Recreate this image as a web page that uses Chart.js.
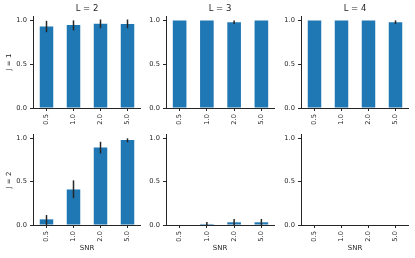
<!DOCTYPE html>
<html>
<head>
<meta charset="utf-8">
<script src="https://cdn.jsdelivr.net/npm/chart.js@4.4.0/dist/chart.umd.min.js"></script>
<style>
  body { margin: 0; width: 415px; height: 258px; position: relative; overflow: hidden; background: #fff;
         font-family: "DejaVu Sans", sans-serif; color: #262626; }
  canvas { position: absolute; }
  .lbl { position: absolute; white-space: nowrap; transform: translate(-50%, -50%); font-size: 7px; }
  .ttl { font-size: 8.5px; }
  .rot { transform: translate(-50%, -50%) rotate(-90deg); }
</style>
</head>
<body>
<canvas id="p11"></canvas><canvas id="p12"></canvas><canvas id="p13"></canvas>
<canvas id="p21"></canvas><canvas id="p22"></canvas><canvas id="p23"></canvas>

<div class="lbl ttl" style="left:87px;top:8px">L = 2</div>
<div class="lbl ttl" style="left:220px;top:8px">L = 3</div>
<div class="lbl ttl" style="left:355px;top:8px">L = 4</div>
<div class="lbl rot" style="left:8.5px;top:62px">J = 1</div>
<div class="lbl rot" style="left:8.5px;top:180px">J = 2</div>
<div class="lbl" style="left:87px;top:248px">SNR</div>
<div class="lbl" style="left:220px;top:248px">SNR</div>
<div class="lbl" style="left:355px;top:248px">SNR</div>

<script>
  // --- data
  const snr = ['0.5', '1.0', '2.0', '5.0'];
  const yTicks = [0, 0.5, 1.0];

  // J = 1
  const j1L2 = [0.93, 0.947, 0.962, 0.96];
  const j1L2Lo = [0.865, 0.886, 0.91, 0.91];
  const j1L2Hi = [0.995, 1.0, 1.01, 1.01];
  const j1L3 = [1.0, 1.0, 0.98, 1.0];
  const j1L3Lo = [1.0, 1.0, 0.96, 1.0];
  const j1L3Hi = [1.0, 1.0, 1.0, 1.0];
  const j1L4 = [1.0, 1.0, 1.0, 0.98];
  const j1L4Lo = [1.0, 1.0, 1.0, 0.96];
  const j1L4Hi = [1.0, 1.0, 1.0, 1.0];

  // J = 2
  const j2L2 = [0.065, 0.41, 0.893, 0.98];
  const j2L2Lo = [0.0, 0.31, 0.825, 0.955];
  const j2L2Hi = [0.115, 0.515, 0.96, 1.0];
  const j2L3 = [0.0, 0.012, 0.031, 0.031];
  const j2L3Lo = [0.0, 0.0, 0.0, 0.0];
  const j2L3Hi = [0.0, 0.035, 0.07, 0.07];
  const j2L4 = [0.0, 0.0, 0.0, 0.0];
  const j2L4Lo = [0.0, 0.0, 0.0, 0.0];
  const j2L4Hi = [0.0, 0.0, 0.0, 0.0];

  // --- layout of the 2x3 grid
  const INK = '#262626';
  const BAR = '#1f77b4';
  const X_AXIS_H = 22;

  const panels = [
    { id: 'p11', left: 0,   top: 0,   w: 141, h: 130, yW: 33, mean: j1L2, lo: j1L2Lo, hi: j1L2Hi },
    { id: 'p12', left: 140, top: 0,   w: 135, h: 130, yW: 26, mean: j1L3, lo: j1L3Lo, hi: j1L3Hi },
    { id: 'p13', left: 275, top: 0,   w: 134, h: 130, yW: 26, mean: j1L4, lo: j1L4Lo, hi: j1L4Hi },
    { id: 'p21', left: 0,   top: 118, w: 141, h: 129, yW: 33, mean: j2L2, lo: j2L2Lo, hi: j2L2Hi },
    { id: 'p22', left: 140, top: 118, w: 135, h: 129, yW: 26, mean: j2L3, lo: j2L3Lo, hi: j2L3Hi },
    { id: 'p23', left: 275, top: 118, w: 134, h: 129, yW: 26, mean: j2L4, lo: j2L4Lo, hi: j2L4Hi }
  ];

  // error bars: vertical line from lo to hi at each bar center
  const errBars = {
    id: 'errBars',
    afterDatasetsDraw(chart) {
      const ds = chart.data.datasets[0];
      const meta = chart.getDatasetMeta(0);
      const y = chart.scales.y;
      const ctx = chart.ctx;
      ctx.save();
      ctx.strokeStyle = INK;
      ctx.lineWidth = 1.5;
      meta.data.forEach((bar, i) => {
        const y0 = y.getPixelForValue(ds.errLo[i]);
        const y1 = y.getPixelForValue(ds.errHi[i]);
        if (Math.abs(y0 - y1) < 0.5) return;
        ctx.beginPath();
        ctx.moveTo(bar.x, y0);
        ctx.lineTo(bar.x, y1);
        ctx.stroke();
      });
      ctx.restore();
    }
  };

  const tickFont = { family: 'DejaVu Sans', size: 6.7 };

  panels.forEach(p => {
    const cv = document.getElementById(p.id);
    cv.width = p.w; cv.height = p.h;
    cv.style.left = p.left + 'px'; cv.style.top = p.top + 'px';
    cv.style.width = p.w + 'px'; cv.style.height = p.h + 'px';

    new Chart(cv.getContext('2d'), {
      type: 'bar',
      data: {
        labels: snr,
        datasets: [{ data: p.mean, errLo: p.lo, errHi: p.hi, backgroundColor: BAR, borderWidth: 0,
                     barPercentage: 0.5, categoryPercentage: 1.0 }]
      },
      options: {
        responsive: false, animation: false,
        layout: { padding: { top: 16, left: 0, right: 0, bottom: 0 } },
        plugins: { legend: { display: false }, tooltip: { enabled: false } },
        scales: {
          x: {
            grid: { display: true, offset: false, drawOnChartArea: false, drawTicks: true, tickLength: 3, color: INK, lineWidth: 1 },
            border: { display: true, color: INK, width: 1 },
            ticks: { minRotation: 90, maxRotation: 90, padding: 3, color: INK, font: tickFont, autoSkip: false },
            afterFit(s) { s.height = X_AXIS_H; }
          },
          y: {
            min: 0, max: 1.05,
            grid: { display: true, drawOnChartArea: false, drawTicks: true, tickLength: 3, color: INK, lineWidth: 1 },
            border: { display: true, color: INK, width: 1 },
            ticks: { padding: 3, color: INK, font: tickFont, callback: v => Number(v).toFixed(1) },
            afterBuildTicks(s) { s.ticks = yTicks.map(v => ({ value: v })); },
            afterFit(s) { s.width = p.yW; }
          }
        }
      },
      plugins: [errBars]
    });
  });
</script>
</body>
</html>
